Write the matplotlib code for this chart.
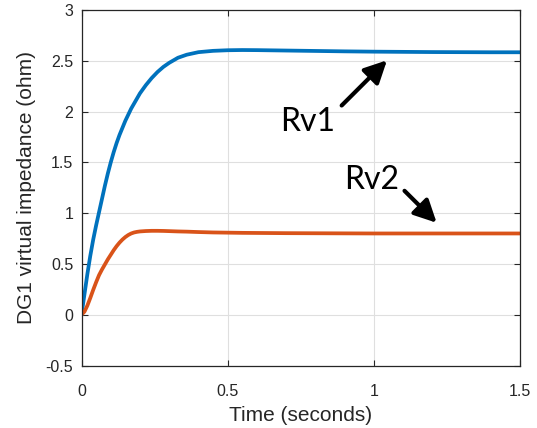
# -------------------- Modules --------------------
import matplotlib
matplotlib.use("Agg")
from matplotlib import pyplot as plt


# -------------------- Data --------------------
time_s = [0, 0.01, 0.02, 0.03, 0.04, 0.05, 0.06, 0.07, 0.08, 0.09, 0.10,
          0.11, 0.12, 0.13, 0.14, 0.15, 0.16, 0.17, 0.18, 0.19, 0.20,
          0.22, 0.24, 0.26, 0.28, 0.30, 0.33, 0.36, 0.40, 0.45, 0.50,
          0.55, 0.60, 0.70, 0.80, 0.90, 1.00, 1.10, 1.20, 1.30, 1.40, 1.50]

rv1 = [0, 0.20, 0.40, 0.58, 0.74, 0.88, 1.01, 1.14, 1.27, 1.39, 1.50,
       1.60, 1.69, 1.77, 1.84, 1.91, 1.97, 2.03, 2.08, 2.13, 2.18,
       2.26, 2.33, 2.39, 2.44, 2.48, 2.53, 2.56, 2.585, 2.598, 2.604,
       2.606, 2.605, 2.601, 2.597, 2.593, 2.590, 2.588, 2.586, 2.585, 2.584, 2.584]

rv2 = [0, 0.03, 0.09, 0.165, 0.245, 0.32, 0.39, 0.445, 0.495, 0.545, 0.59,
       0.635, 0.675, 0.71, 0.74, 0.765, 0.785, 0.80, 0.81, 0.816, 0.82,
       0.824, 0.826, 0.826, 0.825, 0.823, 0.820, 0.818, 0.814, 0.810, 0.808,
       0.806, 0.805, 0.803, 0.802, 0.801, 0.800, 0.800, 0.800, 0.800, 0.800, 0.800]

x_ticks = [0, 0.5, 1, 1.5]
x_tick_labels = ["0", "0.5", "1", "1.5"]
y_ticks = [-0.5, 0, 0.5, 1, 1.5, 2, 2.5, 3]
y_tick_labels = ["-0.5", "0", "0.5", "1", "1.5", "2", "2.5", "3"]

# annotation text / arrow (tail -> head) in data units
rv1_label = ("Rv1", 0.773, 1.90)
rv1_arrow = ((0.890, 2.06), (1.045, 2.505))
rv2_label = ("Rv2", 0.992, 1.33)
rv2_arrow = ((1.105, 1.22), (1.215, 0.905))


# -------------------- Plot --------------------
def main():
    dark = "#262626"
    plt.rcParams["font.family"] = ["Liberation Sans", "DejaVu Sans"]

    fig = plt.figure(figsize=(5.37, 4.28), dpi=100)
    ax = fig.add_axes([0.1518, 0.146, 0.8165, 0.8306])

    ax.plot(time_s, rv1, color="#0072BD", lw=2.7, solid_capstyle="round")
    ax.plot(time_s, rv2, color="#D95319", lw=2.7, solid_capstyle="round")

    ax.set_xlim(0, 1.5)
    ax.set_ylim(-0.5, 3)
    ax.set_xticks(x_ticks, x_tick_labels)
    ax.set_yticks(y_ticks, y_tick_labels)
    ax.grid(True, color="#dfdfdf", lw=0.8)
    ax.set_axisbelow(True)

    ax.tick_params(direction="in", top=True, right=True, length=4,
                   width=0.8, colors=dark, labelsize=11.5)
    ax.tick_params(axis="x", pad=13)
    ax.tick_params(axis="y", pad=6)
    for sp in ax.spines.values():
        sp.set_color(dark)
        sp.set_linewidth(0.9)

    ax.set_xlabel("Time (seconds)", fontsize=15, color=dark, labelpad=5)
    ax.set_ylabel("DG1 virtual impedance (ohm)", fontsize=15, color=dark)
    ax.yaxis.set_label_coords(-0.104, 0.5)

    for txt, x, y in (rv1_label, rv2_label):
        ax.text(x, y, txt, fontsize=23, family=["Lato", "DejaVu Sans"],
                color="black", ha="center", va="center")

    for tail, head in (rv1_arrow, rv2_arrow):
        ax.annotate("", xy=head, xytext=tail,
                    arrowprops=dict(arrowstyle="-|>,head_length=0.9,head_width=0.45",
                                    mutation_scale=15, lw=3, color="black",
                                    capstyle="round", shrinkA=0, shrinkB=0))

    fig.savefig("out.png", dpi=100)


if __name__ == "__main__":
    main()
